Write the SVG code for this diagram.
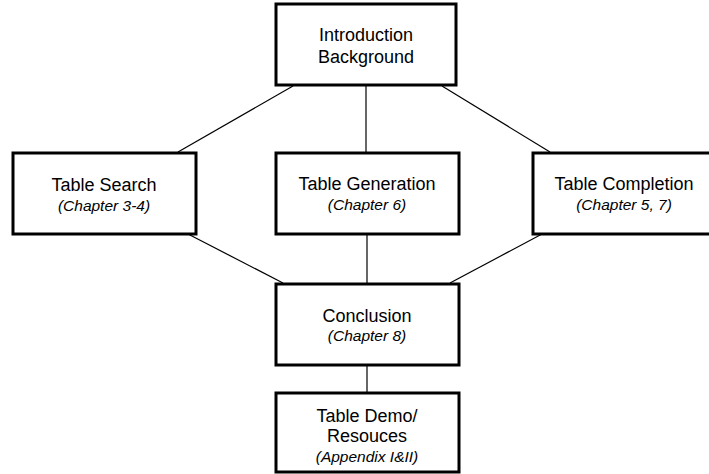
<svg xmlns="http://www.w3.org/2000/svg" width="709" height="474" viewBox="0 0 709 474">
<style>
.box{fill:#fff;stroke:#000;stroke-width:3}
.t{font-family:"Liberation Sans",Arial,sans-serif;font-size:18px;fill:#000;text-anchor:middle}
.s{font-family:"Liberation Sans",Arial,sans-serif;font-size:15.5px;font-style:italic;fill:#000;text-anchor:middle}
.c{stroke:#000;stroke-width:1.2;fill:none}
</style>
<rect width="709" height="474" fill="#fff"/>
<g id="connectors">
<line class="c" x1="293" y1="86" x2="178" y2="152"/>
<line class="c" x1="366" y1="86" x2="366" y2="152"/>
<line class="c" x1="442" y1="86" x2="550" y2="152"/>
<line class="c" x1="188" y1="234" x2="283" y2="283"/>
<line class="c" x1="367" y1="234" x2="367" y2="283"/>
<line class="c" x1="542" y1="234" x2="450" y2="283"/>
<line class="c" x1="367" y1="365" x2="367" y2="392"/>
</g>
<g id="intro">
<rect class="box" x="276" y="4" width="180" height="81"/>
<text class="t" x="366" y="41">Introduction</text>
<text class="t" x="366" y="63">Background</text>
</g>
<g id="search">
<rect class="box" x="13" y="153" width="183" height="81"/>
<text class="t" x="104" y="191">Table Search</text>
<text class="s" x="104" y="211">(Chapter 3-4)</text>
</g>
<g id="generation">
<rect class="box" x="276" y="153" width="183" height="81"/>
<text class="t" x="367" y="190">Table Generation</text>
<text class="s" x="367" y="210">(Chapter 6)</text>
</g>
<g id="completion">
<rect class="box" x="533" y="153" width="183" height="81"/>
<text class="t" x="624" y="190">Table Completion</text>
<text class="s" x="624" y="210">(Chapter 5, 7)</text>
</g>
<g id="conclusion">
<rect class="box" x="276" y="284" width="183" height="81"/>
<text class="t" x="367" y="322">Conclusion</text>
<text class="s" x="367" y="341">(Chapter 8)</text>
</g>
<g id="demo">
<rect class="box" x="276" y="393" width="183" height="79"/>
<text class="t" x="367" y="422">Table Demo/</text>
<text class="t" x="367" y="442">Resouces</text>
<text class="s" x="367" y="462">(Appendix I&amp;II)</text>
</g>
</svg>
